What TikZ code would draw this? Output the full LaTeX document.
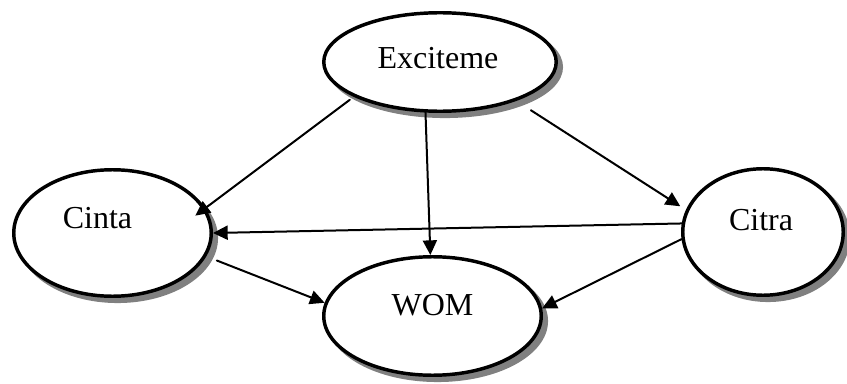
\documentclass[tikz,border=0pt]{standalone}
\usepackage{fontspec}
\setmainfont{Liberation Serif}
\usetikzlibrary{arrows.meta,shapes.geometric}
\tikzset{
  every picture/.append style={line cap=round,line join=round},
  sem construct/.style 2 args={ellipse,draw=black,line width=2.6pt,fill=white,
    minimum width=#1*0.75pt,minimum height=#2*0.75pt,inner sep=0pt,
    preaction={draw=black!50,fill=black!50,transform canvas={xshift=3.8pt,yshift=-3.8pt}}},
  sem label/.style={anchor=base,inner sep=0pt,font=\fontsize{24}{28}\selectfont},
  sem arrow/.style={line width=1.5pt,-{Triangle[length=11pt,width=10.5pt]}}
}

\begin{document}
\begin{tikzpicture}[x=0.75pt,y=0.75pt]
  \useasboundingbox (0,0) rectangle (847,383);
  % constructs
  \node[sem construct={232.5}{98.5}] (exc) at (440,321) {};
  \node[sem construct={197.5}{126.5}] (cinta) at (112.5,150) {};
  \node[sem construct={160.5}{126.5}] (citra) at (763,151) {};
  \node[sem construct={217.5}{118.5}] (wom) at (432.5,67) {};
  \node[sem label] (exc text) at ([shift={(-2,-6)}]exc.center) {Exciteme};
  \node[sem label] (cinta text) at ([shift={(-15,5)}]cinta.center) {Cinta};
  \node[sem label] (citra text) at ([shift={(-2,2)}]citra.center) {Citra};
  \node[sem label] (wom text) at ([shift={(0,1)}]wom.center) {WOM};
  % paths
  \draw[sem arrow, shorten <=3.75pt, shorten >=-9.4pt] (exc.202.2) -- (cinta.15.4);
  \draw[sem arrow] (exc.254.6) -- (wom.92.3);
  \draw[sem arrow, shorten <=13pt, shorten >=5pt] (exc.333.6) -- (citra.164.6);
  \draw[sem arrow] (citra.174.4) -- (cinta.0);
  \draw[sem arrow, shorten <=8.5pt] (cinta.346.4) -- (wom.173.2);
  \draw[sem arrow] (citra.185.8) -- (wom.4.1);
\end{tikzpicture}
\end{document}
